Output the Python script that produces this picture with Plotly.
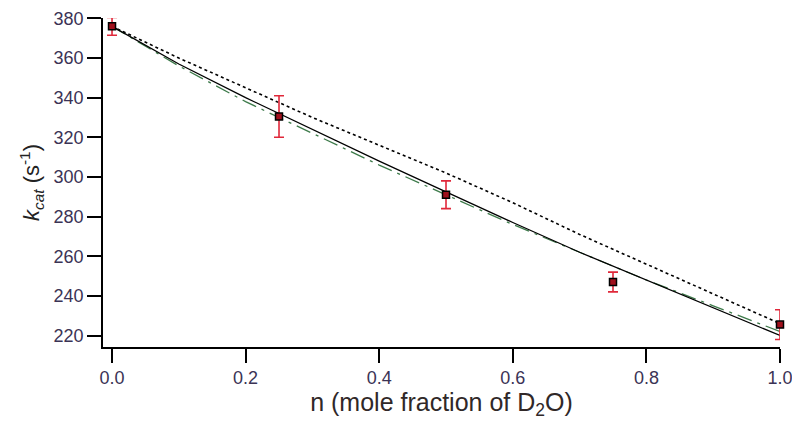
import plotly.graph_objects as go

# measured points
n_meas = [0.0, 0.25, 0.5, 0.75, 1.0]
kcat_meas = [376, 330.5, 291, 247, 225.5]
kcat_err = [4.5, 10.5, 7, 5, 7.5]

# fitted curves
n_fit = [0.0, 0.1, 0.2, 0.3, 0.4, 0.5, 0.6, 0.7, 0.8, 0.9, 1.0]
fit_solid = [376, 357, 340, 324, 308, 292.5, 277, 262, 248, 234, 220]
fit_dotted = [376, 360, 345, 330, 316, 302, 287, 271, 256, 241, 226]
fit_dashdot = [376, 356, 338, 322, 306, 291, 276, 262, 248, 235, 222]

tick_col = '#3b3355'

fig = go.Figure()
fig.add_trace(go.Scatter(x=n_fit, y=fit_dotted, mode='lines',
                         line=dict(color='black', width=1.6, dash='dot')))
fig.add_trace(go.Scatter(x=n_fit, y=fit_dashdot, mode='lines',
                         line=dict(color='#3d7a4a', width=1.3, dash='longdashdot')))
fig.add_trace(go.Scatter(x=n_fit, y=fit_solid, mode='lines',
                         line=dict(color='black', width=1.3)))
fig.add_trace(go.Scatter(
    x=n_meas, y=kcat_meas, mode='markers', cliponaxis=False,
    marker=dict(symbol='square', size=7, color='#a0101c',
                line=dict(color='black', width=1.5)),
    error_y=dict(type='data', array=kcat_err, visible=True,
                 color='#e0283a', thickness=1.6, width=5)))

# page body has an 8px margin, so the figure is sized/offset to compensate
fig.update_layout(
    width=790, height=412,
    paper_bgcolor='white', plot_bgcolor='white',
    margin=dict(l=95, r=18, t=10, b=73),
    showlegend=False,
    font=dict(family='Liberation Sans, Arial, sans-serif', size=18, color=tick_col),
    xaxis=dict(range=[-0.0135, 1.0], tickvals=[0, 0.2, 0.4, 0.6, 0.8, 1.0],
               tickformat='.1f', ticks='outside', ticklen=14, tickwidth=1.5,
               tickcolor='black', showline=True, linecolor='black', linewidth=1.5,
               showgrid=False, zeroline=False, automargin=False,
               ticklabeloverflow='allow',
               title=dict(text='n (mole fraction of D<sub>2</sub>O)',
                          font=dict(size=25, color='#302828'), standoff=0)),
    yaxis=dict(range=[214.2, 380.2], tickvals=[220, 240, 260, 280, 300, 320, 340, 360, 380],
               ticks='outside', ticklen=14, tickwidth=1.5, tickcolor='black',
               showline=True, linecolor='black', linewidth=1.5,
               showgrid=False, zeroline=False, automargin=False,
               ticklabeloverflow='allow',
               title=dict(text='<i>k<sub>cat</sub></i> (s<sup>-1</sup>)',
                          font=dict(size=22, color='#222222'), standoff=8)),
)

fig.write_html("out.html")
